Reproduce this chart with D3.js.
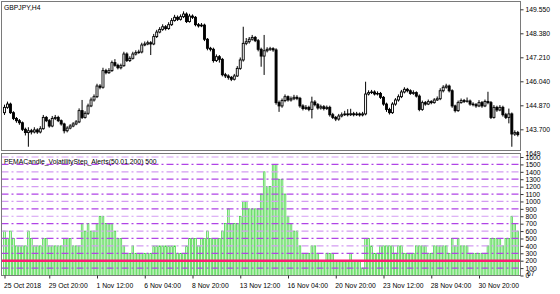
<!DOCTYPE html>
<html>
<head>
<meta charset="utf-8">
<script src="https://cdn.jsdelivr.net/npm/d3@7"></script>
<style>
body{margin:0;background:#fff}
svg{display:block}
text{font-family:"Liberation Sans",Arial,sans-serif;font-size:6.8px;fill:#000}
</style>
</head>
<body>
<svg id="chart" width="560" height="294"></svg>
<script>
// GBPJPY H4 candles
const open = [144.51,144.77,144.93,144.51,144.23,144.12,144.02,143.70,143.54,143.63,
143.57,143.67,143.57,143.73,144.28,144.12,143.86,144.23,144.28,144.12,
143.96,143.63,143.76,143.86,143.96,144.06,144.61,144.28,144.48,144.84,
145.13,145.29,145.81,145.75,146.56,146.46,146.56,146.95,146.82,146.70,
146.80,147.37,147.05,147.16,147.37,147.44,147.47,147.81,147.86,147.92,
147.86,148.22,148.44,148.57,148.70,148.61,148.80,149.00,149.16,149.06,
149.19,149.32,148.95,149.22,149.16,148.80,148.74,148.78,148.09,147.65,
147.60,147.05,147.24,147.11,146.36,146.30,146.23,146.14,146.30,146.67,
147.08,147.89,147.97,148.09,148.18,148.02,147.60,147.27,147.53,147.60,
147.63,147.57,145.00,144.84,145.10,145.29,145.13,145.19,145.26,145.21,
144.84,144.71,144.77,144.67,145.03,144.90,144.74,144.80,144.71,144.77,
144.41,144.28,144.20,144.35,144.41,144.45,144.41,144.46,144.41,144.45,
144.40,144.45,145.42,145.49,145.52,145.42,145.45,145.26,144.93,144.67,
144.51,144.93,145.13,145.29,145.52,145.65,145.58,145.45,145.49,145.32,
144.67,145.00,144.93,145.05,145.00,145.13,145.19,145.58,145.75,145.81,
145.58,144.84,144.61,145.00,145.10,145.06,145.08,144.93,144.90,144.84,
145.00,144.84,145.06,145.00,144.28,144.77,144.64,144.77,144.41,144.28,
144.45,143.47,143.54]
const high = [144.90,145.05,145.00,144.58,144.30,144.20,144.08,143.78,143.80,143.72,
143.80,143.75,143.85,144.40,144.35,144.20,144.35,144.40,144.36,144.18,
144.02,143.85,143.95,144.05,144.15,144.72,145.13,144.58,144.95,145.25,
145.40,145.92,145.90,146.70,146.65,146.68,147.05,147.12,146.90,146.90,
147.48,147.45,147.26,147.48,147.55,147.58,147.92,147.98,148.02,148.00,
148.35,148.55,148.68,148.82,148.78,148.92,149.12,149.28,149.25,149.30,
149.45,149.40,149.33,149.30,149.22,148.88,148.88,148.85,148.15,147.72,
147.68,147.35,147.32,147.18,146.45,146.38,146.30,146.40,146.78,147.20,
148.70,148.15,148.20,148.30,148.25,148.10,147.68,148.30,147.70,147.72,
147.70,147.65,145.10,145.20,145.40,145.35,145.30,145.38,145.36,145.28,
144.92,144.88,144.85,145.29,145.12,144.98,144.90,144.88,144.86,144.85,
144.50,144.35,144.45,144.52,144.60,144.68,144.70,144.55,144.55,144.52,
144.55,146.02,145.60,145.62,145.60,145.55,145.52,145.32,145.00,144.75,
145.02,145.22,145.40,145.62,145.75,145.72,145.65,145.60,145.55,145.40,
145.10,145.08,145.15,145.12,145.22,145.30,145.70,145.85,145.92,145.88,
145.65,144.90,145.10,145.20,145.18,145.25,145.15,145.02,144.98,145.12,
145.08,145.15,145.53,145.08,144.88,144.85,144.88,144.85,144.50,144.71,
144.52,143.65,143.62]
const low = [144.40,144.70,144.45,144.15,144.02,143.92,143.62,143.40,142.85,143.45,
143.50,143.48,143.50,143.68,144.05,143.78,143.80,144.15,144.05,143.88,
143.50,143.55,143.70,143.80,143.90,144.00,144.20,144.22,144.40,144.78,
145.05,145.22,145.65,145.68,146.38,146.40,146.50,146.75,146.62,146.62,
146.75,146.98,146.98,147.10,147.30,147.38,147.40,147.75,147.80,147.32,
147.80,148.15,148.38,148.50,148.52,148.55,148.74,148.95,148.98,149.00,
149.12,148.88,148.90,149.08,148.72,148.66,148.68,148.00,147.55,147.50,
146.95,146.98,146.95,146.28,146.20,146.12,146.05,146.08,146.25,146.60,
147.00,147.80,147.88,148.02,147.95,147.50,146.75,146.35,147.45,147.52,
147.48,144.90,144.55,144.75,145.02,145.05,145.05,145.12,145.12,144.75,
144.62,144.64,144.58,144.23,144.82,144.66,144.66,144.62,144.64,144.32,
144.20,144.10,144.12,144.28,144.35,144.33,144.35,144.33,144.35,144.32,
144.33,144.38,145.35,145.42,145.35,145.35,145.18,144.85,144.55,144.42,
144.45,144.85,145.05,145.22,145.45,145.50,145.38,145.38,145.25,144.58,
144.60,144.85,144.88,144.92,144.95,145.08,145.12,145.50,145.68,145.50,
144.75,144.52,144.55,144.95,144.98,145.00,144.85,144.82,144.75,144.78,
144.75,144.78,144.92,144.20,144.22,144.55,144.58,144.32,144.20,143.99,
142.85,143.38,143.35]
const close = [144.77,144.93,144.51,144.23,144.12,144.02,143.70,143.54,143.63,143.57,
143.67,143.57,143.73,144.28,144.12,143.86,144.23,144.28,144.12,143.96,
143.63,143.76,143.86,143.96,144.06,144.61,144.28,144.48,144.84,145.13,
145.29,145.81,145.75,146.56,146.46,146.56,146.95,146.82,146.70,146.80,
147.37,147.05,147.16,147.37,147.44,147.47,147.81,147.86,147.92,147.86,
148.22,148.44,148.57,148.70,148.61,148.80,149.00,149.16,149.06,149.19,
149.32,148.95,149.22,149.16,148.80,148.74,148.78,148.09,147.65,147.60,
147.05,147.24,147.11,146.36,146.30,146.23,146.14,146.30,146.67,147.08,
147.89,147.97,148.09,148.18,148.02,147.60,147.27,147.53,147.60,147.63,
147.57,145.00,144.84,145.10,145.29,145.13,145.19,145.26,145.21,144.84,
144.71,144.77,144.67,145.03,144.90,144.74,144.80,144.71,144.77,144.41,
144.28,144.20,144.35,144.41,144.45,144.41,144.46,144.41,144.45,144.40,
144.45,145.42,145.49,145.52,145.42,145.45,145.26,144.93,144.67,144.51,
144.93,145.13,145.29,145.52,145.65,145.58,145.45,145.49,145.32,144.67,
145.00,144.93,145.05,145.00,145.13,145.19,145.58,145.75,145.81,145.58,
144.84,144.61,145.00,145.10,145.06,145.08,144.93,144.90,144.84,145.00,
144.84,145.06,145.00,144.28,144.77,144.64,144.77,144.41,144.28,144.45,
143.47,143.54,143.44]

// volatility step histogram
const volStep = [600,500,600,500,400,400,400,400,600,500,
400,400,400,500,500,400,400,400,400,400,
500,500,500,400,400,400,700,600,700,600,
600,700,800,800,700,700,700,600,500,500,
400,300,300,400,300,300,300,300,300,300,
400,400,400,400,400,400,400,400,300,300,
300,400,500,500,500,400,500,500,600,500,
500,500,500,600,700,900,700,700,700,800,
1000,1000,900,900,900,900,1100,1400,1200,1200,
1500,1500,1300,1300,1100,800,700,600,600,400,
300,300,300,400,400,300,200,200,300,300,
300,200,200,200,200,200,300,200,200,200,
100,500,500,400,300,300,400,400,400,400,
400,300,400,400,300,300,300,300,400,400,
400,400,300,300,400,400,400,400,400,300,
500,400,500,400,400,400,300,300,300,300,
300,300,400,500,500,500,500,400,500,500,
800,700,600]

const priceTicks = [143.700,144.870,146.040,147.210,148.380,149.550]
const levels = [100,200,300,400,500,600,700,800,900,1000,1100,1200,1300,1400,1500,1600]
const levelTicks = [0,100,200,300,400,500,600,700,800,900,1000,1100,1200,1300,1400,1500,1600]
const signalLevel = 200
const timeBars = [0,15,31,47,63,79,95,111,127,143,159]
const timeLabels = ["25 Oct 2018","29 Oct 20:00","1 Nov 12:00","6 Nov 04:00","8 Nov 20:00","13 Nov 12:00","16 Nov 04:00","20 Nov 20:00","23 Nov 12:00","28 Nov 04:00","30 Nov 20:00"]

const svg = d3.select("#chart")
const main = {left:1.5, right:520.5, top:1.5, bottom:150.5}
const sub = {left:1.5, right:520.5, top:153.5, bottom:275.5}

const x = d3.scaleLinear().domain([0, close.length - 1]).range([4.5, 517.8])
const y = d3.scaleLinear().domain([143.7, 149.55]).range([129.3, 9.3])
const yv = d3.scaleLinear().domain([0, 1600]).range([275.5, 157])

const defs = svg.append("defs")
defs.append("clipPath").attr("id","clipMain").append("rect")
    .attr("x",main.left).attr("y",main.top).attr("width",main.right-main.left).attr("height",main.bottom-main.top)
defs.append("clipPath").attr("id","clipSub").append("rect")
    .attr("x",sub.left).attr("y",sub.top).attr("width",sub.right-sub.left).attr("height",sub.bottom-sub.top)

// histogram
const hist = svg.append("g").attr("clip-path","url(#clipSub)")
hist.selectAll("rect").data(volStep).join("rect")
    .attr("x",(d,i)=>x(i)-0.85)
    .attr("width",1.7)
    .attr("y",d=>yv(d))
    .attr("height",d=>yv(0)-yv(d))
    .attr("fill","#d6f6d2")
    .attr("stroke","#2fd02f")
    .attr("stroke-width",0.65)

// levels
const lv = svg.append("g")
lv.selectAll("line").data(levels.filter(d=>d!==signalLevel)).join("line")
    .attr("x1",sub.left).attr("x2",sub.right)
    .attr("y1",d=>yv(d)).attr("y2",d=>yv(d))
    .attr("stroke",d=>(d/100)%2===0 ? "#d39cf2" : "#b044e6")
    .attr("stroke-width",1.2)
    .attr("stroke-dasharray","7,3,2,3")
lv.append("line")
    .attr("x1",sub.left).attr("x2",sub.right)
    .attr("y1",yv(signalLevel)).attr("y2",yv(signalLevel))
    .attr("stroke","#ff1a72").attr("stroke-width",2.6)

// candles
const cg = svg.append("g").attr("clip-path","url(#clipMain)")
cg.selectAll("line").data(close).join("line")
    .attr("x1",(d,i)=>x(i)).attr("x2",(d,i)=>x(i))
    .attr("y1",(d,i)=>y(high[i])).attr("y2",(d,i)=>y(low[i]))
    .attr("stroke","#000")
cg.selectAll("rect").data(close).join("rect")
    .attr("x",(d,i)=>x(i)-1)
    .attr("width",2)
    .attr("y",(d,i)=>y(Math.max(open[i],d)))
    .attr("height",(d,i)=>Math.max(0.4,Math.abs(y(open[i])-y(d))))
    .attr("fill",(d,i)=>d>=open[i] ? "#fff" : "#000")
    .attr("stroke","#000")
    .attr("stroke-width",0.9)

// frames
svg.append("rect").attr("x",main.left).attr("y",main.top)
    .attr("width",main.right-main.left).attr("height",main.bottom-main.top)
    .attr("fill","none").attr("stroke","#7a7a7a")
svg.append("rect").attr("x",sub.left).attr("y",sub.top)
    .attr("width",sub.right-sub.left).attr("height",sub.bottom-sub.top)
    .attr("fill","none").attr("stroke","#7a7a7a")

// price axis
const pa = svg.append("g").attr("transform",`translate(${main.right},0)`).attr("color","#333")
    .call(d3.axisRight(y).tickValues(priceTicks).tickSize(3).tickSizeOuter(0).tickPadding(2).tickFormat(d3.format(".3f")))
pa.select(".domain").remove()

// indicator axis
const va = svg.append("g").attr("transform",`translate(${sub.right},0)`).attr("color","#333")
    .call(d3.axisRight(yv).tickValues(levelTicks).tickSize(3).tickSizeOuter(0).tickPadding(2).tickFormat(d3.format("d")))
va.select(".domain").remove()
va.append("text").attr("x",5).attr("y",yv(1649)).attr("dy","0.32em").text("1649")
va.append("text").attr("x",6.5).attr("y",yv(0)).attr("dy","0.1em").text("67")

// time axis
const ta = svg.append("g").attr("transform",`translate(0,${sub.bottom})`).attr("color","#333")
    .call(d3.axisBottom(x).tickValues(timeBars).tickSize(3).tickSizeOuter(0).tickPadding(5).tickFormat((d,k)=>timeLabels[k]))
ta.select(".domain").remove()
ta.selectAll("text").attr("text-anchor","start").attr("x",-1)

// titles
svg.append("text").attr("x",4).attr("y",10).text("GBPJPY,H4")
svg.append("text").attr("x",4).attr("y",163.5).text("PEMACandle_VolatilityStep_Alerts(50.01,200) 500")
</script>
</body>
</html>
